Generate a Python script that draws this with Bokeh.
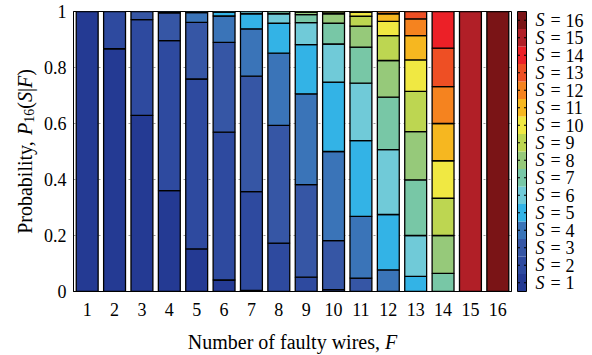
import math
from bokeh.plotting import figure
from bokeh.layouts import row, column
from bokeh.models import ColumnDataSource, FixedTicker, Range1d
from bokeh.core.properties import value
from bokeh.embed import file_html
from bokeh.resources import INLINE

# ---------------- data ----------------
F_values = [1, 2, 3, 4, 5, 6, 7, 8, 9, 10, 11, 12, 13, 14, 15, 16]
S_values = [1, 2, 3, 4, 5, 6, 7, 8, 9, 10, 11, 12, 13, 14, 15, 16]

# P_16(S|F) for S = 1..16, each list indexed by F = 1..16
s1 = [1.000, 0.867, 0.629, 0.360, 0.152, 0.041, 0.004, 0, 0, 0, 0, 0, 0, 0, 0, 0]
s2 = [0, 0.133, 0.342, 0.536, 0.607, 0.528, 0.353, 0.173, 0.051, 0.007, 0, 0, 0, 0, 0, 0]
s3 = [0, 0, 0.029, 0.099, 0.202, 0.321, 0.412, 0.420, 0.331, 0.175, 0.048, 0, 0, 0, 0, 0]
s4 = [0, 0, 0, 0.005, 0.035, 0.094, 0.169, 0.258, 0.324, 0.318, 0.220, 0.077, 0, 0, 0, 0]
s5 = [0, 0, 0, 0, 0.004, 0.014, 0.054, 0.107, 0.176, 0.248, 0.271, 0.198, 0.054, 0, 0, 0]
s6 = [0, 0, 0, 0, 0, 0.002, 0.008, 0.034, 0.078, 0.136, 0.205, 0.232, 0.146, 0, 0, 0]
s7 = [0, 0, 0, 0, 0, 0, 0, 0.008, 0.029, 0.074, 0.129, 0.187, 0.199, 0.065, 0, 0]
s8 = [0, 0, 0, 0, 0, 0, 0, 0, 0.009, 0.034, 0.075, 0.131, 0.172, 0.135, 0, 0]
s9 = [0, 0, 0, 0, 0, 0, 0, 0, 0.002, 0.007, 0.035, 0.089, 0.144, 0.133, 0, 0]
s10 = [0, 0, 0, 0, 0, 0, 0, 0, 0, 0.001, 0.014, 0.051, 0.112, 0.134, 0, 0]
s11 = [0, 0, 0, 0, 0, 0, 0, 0, 0, 0, 0.003, 0.027, 0.087, 0.133, 0, 0]
s12 = [0, 0, 0, 0, 0, 0, 0, 0, 0, 0, 0, 0.008, 0.060, 0.132, 0, 0]
s13 = [0, 0, 0, 0, 0, 0, 0, 0, 0, 0, 0, 0, 0.026, 0.137, 0, 0]
s14 = [0, 0, 0, 0, 0, 0, 0, 0, 0, 0, 0, 0, 0, 0.131, 0, 0]
s15 = [0, 0, 0, 0, 0, 0, 0, 0, 0, 0, 0, 0, 0, 0, 1.000, 0]
s16 = [0, 0, 0, 0, 0, 0, 0, 0, 0, 0, 0, 0, 0, 0, 0, 1.000]

S_colors = ["#243a93", "#2e4a9f", "#3656a5", "#3a74b8", "#33b3e6", "#70cad8",
            "#78c7a6", "#96c97a", "#bdd651", "#f0e842", "#f6b720", "#f5831f",
            "#ee4f24", "#ec2027", "#b11f27", "#7a1416"]

y_ticks = [0, 0.2, 0.4, 0.6, 0.8, 1.0]
y_tick_labels = ["0", "0.2", "0.4", "0.6", "0.8", "1"]

series = [s1, s2, s3, s4, s5, s6, s7, s8, s9, s10, s11, s12, s13, s14, s15, s16]

xs, bottoms, tops, cols = [], [], [], []
for fi, F in enumerate(F_values):
    base = 0.0
    for si, ser in enumerate(series):
        v = ser[fi]
        if v > 0:
            xs.append(F)
            bottoms.append(base)
            tops.append(base + v)
            cols.append(S_colors[si])
            base += v
src = ColumnDataSource(dict(x=xs, bottom=bottoms, top=tops, color=cols))

FONT = "Liberation Serif"
W, H = 592, 355
LEFT_W = 38      # strip holding the y-axis title
CB_W = 77        # strip holding the colour bar
MAIN_H = 325     # main plot height (x title strip below)
MAIN_W = W - LEFT_W - CB_W
BL, BR = 35, 4   # main plot side borders

# ---------------- main plot ----------------
p = figure(width=MAIN_W, height=MAIN_H, x_range=Range1d(0.5, 16.5), y_range=Range1d(0, 1),
           output_backend="svg", toolbar_location=None,
           min_border_left=BL, min_border_right=BR, min_border_top=11, min_border_bottom=34)
p.background_fill_color = "white"
p.border_fill_color = "white"
p.outline_line_color = "black"
p.outline_line_width = 1

p.xgrid.visible = False
p.ygrid.ticker = FixedTicker(ticks=[0.2, 0.4, 0.6, 0.8])
p.ygrid.grid_line_color = "#9a9a9a"
p.ygrid.grid_line_dash = "2 3"

p.vbar(x="x", width=0.8, bottom="bottom", top="top", fill_color="color",
       line_color="black", line_width=1.3, source=src)

p.xaxis.ticker = FixedTicker(ticks=F_values)
p.yaxis.ticker = FixedTicker(ticks=y_ticks)
p.yaxis.major_label_overrides = {t: l for t, l in zip(y_ticks, y_tick_labels)}
for ax in (p.xaxis[0], p.yaxis[0]):
    ax.major_tick_in = 0
    ax.major_tick_out = 0
    ax.minor_tick_line_color = None
    ax.axis_line_color = "black"
    ax.major_label_text_font = FONT
    ax.major_label_text_font_size = "18px"
    ax.major_label_text_color = "black"
p.xaxis.major_label_standoff = 11
p.yaxis.major_label_standoff = 7


def strip(w, h, x0, x1, y0, bl=0, br=0):
    """A plain figure whose frame spans page x x0..x1 and page y y0..y0+h."""
    f = figure(width=w, height=h, x_range=Range1d(x0, x1), y_range=Range1d(0, h),
               output_backend="svg", toolbar_location=None,
               x_axis_type=None, y_axis_type=None, min_border=0,
               min_border_left=bl, min_border_right=br, min_border_top=0, min_border_bottom=0)
    f.grid.visible = False
    f.outline_line_color = None
    f.background_fill_color = "white"
    f.border_fill_color = "white"
    return f, (lambda py: y0 + h - py)


# text width helper (Times metrics, layout only)
REG = {' ': 250, ',': 250, '(': 333, ')': 333, '|': 200, '=': 564, '.': 250,
       'N': 722, 'P': 556, 'a': 444, 'b': 500, 'e': 444, 'f': 333, 'i': 278, 'l': 278,
       'm': 778, 'o': 500, 'r': 333, 's': 389, 't': 278, 'u': 500, 'w': 722, 'y': 500}
ITA = {'P': 611, 'S': 500, 'F': 611}


def tw(s, size, italic=False):
    tab = ITA if italic else REG
    return sum(tab.get(c, 500) for c in s) * size / 1000.0


def put(fig, x, y, text, size, italic=False, angle=0.0, baseline="alphabetic", align="left"):
    fig.text(x=[x], y=[y], text=[text], text_font=value(FONT),
             text_font_size=value(f"{size}px"),
             text_font_style="italic" if italic else "normal",
             text_color="black", text_align=align, text_baseline=baseline, angle=angle)


LS = 20

# ---------------- y-axis title strip ----------------
yl, yl_y = strip(LEFT_W, H, 0, LEFT_W, 0)
yl_parts = [("Probability, ", False, LS, 0), ("P", True, LS, 0), ("16", False, 14, 4),
            ("(", False, LS, 0), ("S", True, LS, 0), ("|", False, LS, 0),
            ("F", True, LS, 0), (")", False, LS, 0)]
total = sum(tw(t, s, it) for t, it, s, _ in yl_parts)
cy = 151 + total / 2
for t, it, s, sh in yl_parts:
    put(yl, 24 + sh, yl_y(cy), t, s, it, angle=math.pi / 2)
    cy -= tw(t, s, it)

# ---------------- x-axis title strip (frame aligned with main frame) ----------------
fx0 = LEFT_W + BL
fx1 = LEFT_W + MAIN_W - BR
xl, xl_y = strip(MAIN_W, H - MAIN_H, fx0, fx1, MAIN_H, bl=BL, br=BR)
xl_parts = [("Number of faulty wires, ", False), ("F", True)]
total = sum(tw(t, LS, it) for t, it in xl_parts)
cx = (fx0 + fx1) / 2 - total / 2
for t, it in xl_parts:
    put(xl, cx, xl_y(341), t, LS, it)
    cx += tw(t, LS, it)

# ---------------- colour bar strip ----------------
cbf, cb_y = strip(CB_W, H, LEFT_W + MAIN_W, W, 0)
seg_h = 280 / len(S_values)
cb_src = ColumnDataSource(dict(
    bottom=[cb_y(291 - i * seg_h) for i in range(len(S_values))],
    top=[cb_y(291 - (i + 1) * seg_h) for i in range(len(S_values))],
    color=S_colors))
cbf.quad(left=517, right=526, bottom="bottom", top="top", fill_color="color",
         line_color=None, source=cb_src)
cbf.quad(left=[517], right=[526], bottom=[cb_y(291)], top=[cb_y(11)], fill_color=None,
         line_color="black", line_width=1)
tick_y = [cb_y(291 - (i + 0.5) * seg_h) for i in range(len(S_values))]
cbf.segment(x0=[517] * 16, x1=[519.5] * 16, y0=tick_y, y1=tick_y, line_color="black", line_width=1)
cbf.segment(x0=[523.5] * 16, x1=[526] * 16, y0=tick_y, y1=tick_y, line_color="black", line_width=1)
for i, S in enumerate(S_values):
    yc = tick_y[i]
    put(cbf, 535, yc, "S", 18, True, baseline="middle")
    put(cbf, 550, yc, "=", 18, False, baseline="middle")
    put(cbf, 565, yc, str(S), 18, False, baseline="middle")

layout = row(yl, column(p, xl, spacing=0), cbf, spacing=0)
open("out.html", "w").write(file_html(layout, INLINE))
